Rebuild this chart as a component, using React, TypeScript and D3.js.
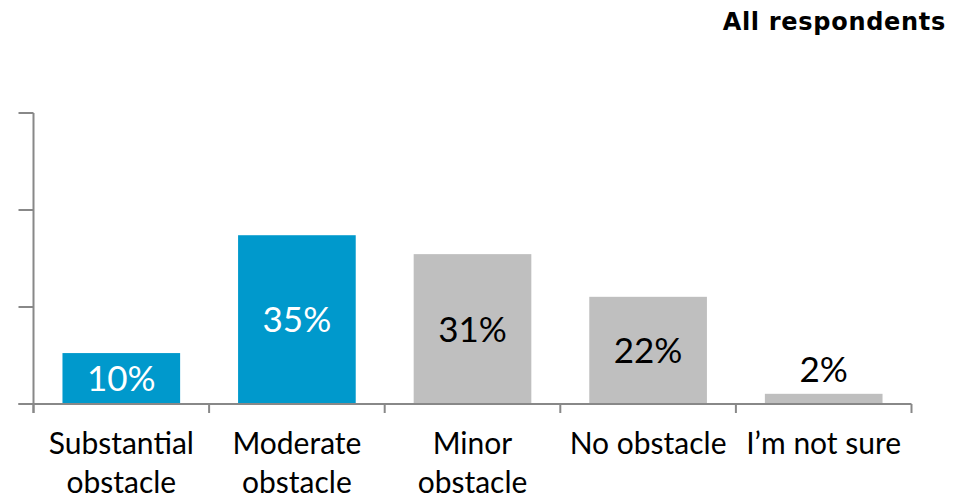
import React from "react";
import * as d3 from "d3";

const categories: string[][] = [
  ["Substantial", "obstacle"],
  ["Moderate", "obstacle"],
  ["Minor", "obstacle"],
  ["No obstacle"],
  ["I’m not sure"],
];
const values: number[] = [10.5, 34.8, 30.9, 22.1, 2.1];
const valueLabels: string[] = ["10%", "35%", "31%", "22%", "2%"];
const highlighted: boolean[] = [true, true, false, false, false];
const yTicks: number[] = [0, 20, 40, 60];
const title = "All respondents";

const W = 964;
const H = 499;
const BLUE = "#0099CC";
const GRAY = "#BFBFBF";
const AXIS = "#888888";
const FONT = "Lato, 'Open Sans', sans-serif";

export default function App() {
  const x = d3
    .scaleBand<number>()
    .domain(d3.range(values.length))
    .range([33.5, 911.5])
    .paddingInner(0.33)
    .paddingOuter(0.165);
  const y = d3.scaleLinear().domain([0, 60]).range([404, 113]);
  const step = x.step();
  const bandEdges = d3.range(values.length + 1).map((i) => 33.5 + i * step);

  return (
    <svg
      width={W}
      height={H}
      style={{ position: "absolute", left: 0, top: 0, background: "#fff" }}
    >
      <text
        x={946}
        y={30}
        textAnchor="end"
        fontFamily="'DejaVu Sans', Verdana, sans-serif"
        fontWeight="bold"
        fontSize={24}
        letterSpacing={0.7}
        fill="#000"
      >
        {title}
      </text>

      {values.map((v, i) => (
        <rect
          key={"b" + i}
          x={x(i)!}
          y={y(v)}
          width={x.bandwidth()}
          height={y(0) - y(v)}
          fill={highlighted[i] ? BLUE : GRAY}
        />
      ))}

      {/* y axis */}
      <line x1={33.5} x2={33.5} y1={y(60)} y2={413} stroke={AXIS} strokeWidth={2} />
      {yTicks.map((t) => (
        <line key={"yt" + t} x1={18.5} x2={33.5} y1={y(t)} y2={y(t)} stroke={AXIS} strokeWidth={2} />
      ))}
      {/* x axis */}
      <line x1={18.5} x2={911.5} y1={y(0)} y2={y(0)} stroke={AXIS} strokeWidth={2} />
      {bandEdges.map((e, i) => (
        <line key={"xt" + i} x1={e} x2={e} y1={y(0)} y2={413} stroke={AXIS} strokeWidth={2} />
      ))}

      {values.map((v, i) => {
        const cx = x(i)! + x.bandwidth() / 2;
        const inside = y(0) - y(v) > 40;
        const cy = inside ? (y(v) + y(0)) / 2 : y(v) - 24;
        return (
          <text
            key={"v" + i}
            x={cx}
            y={cy}
            dy="0.36em"
            textAnchor="middle"
            fontFamily={FONT}
            fontSize={35}
            fill={highlighted[i] ? "#fff" : "#000"}
          >
            {valueLabels[i]}
          </text>
        );
      })}

      {categories.map((lines, i) => {
        const cx = x(i)! + x.bandwidth() / 2;
        return (
          <text
            key={"c" + i}
            textAnchor="middle"
            fontFamily={FONT}
            fontSize={30}
            fill="#000"
          >
            {lines.map((l, j) => (
              <tspan key={j} x={cx} y={454 + j * 39}>
                {l}
              </tspan>
            ))}
          </text>
        );
      })}
    </svg>
  );
}
